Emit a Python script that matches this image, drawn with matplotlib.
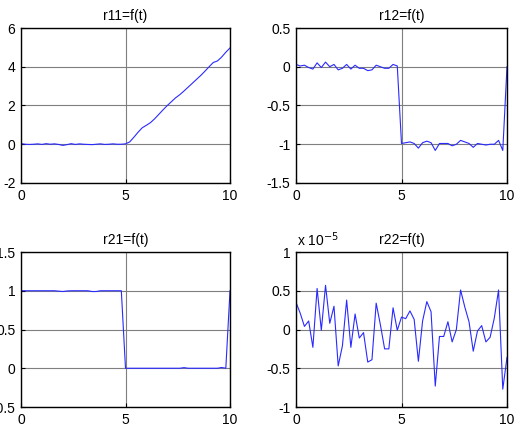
import numpy as np
import matplotlib.pyplot as plt

# time axis, step 0.2 s
t = np.linspace(0, 10, 51)

r11 = [0.03, 0.0, -0.01, 0.0, 0.02, -0.01, 0.03, 0.0, 0.02, -0.01,
       -0.06, -0.02, 0.03, -0.01, 0.02, 0.0, -0.01, -0.02, 0.0, 0.02,
       -0.01, 0.0, 0.02, 0.0, 0.0,
       0.02, 0.12, 0.36, 0.62, 0.85, 0.98, 1.12, 1.32, 1.55, 1.78,
       2.0, 2.2, 2.4, 2.56, 2.75, 2.95, 3.15, 3.35, 3.55, 3.77,
       4.0, 4.22, 4.3, 4.5, 4.75, 4.97]

r12 = [0.03, 0.01, 0.02, -0.01, -0.03, 0.05, -0.01, 0.06, 0.0, 0.03,
       -0.04, -0.02, 0.03, -0.03, 0.02, -0.02, -0.02, -0.05, -0.04, 0.02,
       0.0, -0.02, -0.02, 0.03, 0.01,
       -0.99, -0.98, -0.97, -0.99, -1.05, -0.98, -0.96, -0.98, -1.08, -0.99,
       -0.99, -0.99, -1.02, -1.0, -0.95, -0.97, -0.99, -1.04, -0.99, -1.0,
       -1.01, -1.0, -1.0, -0.95, -1.08, 0.0]

r21 = [1.0, 1.0, 1.0, 1.0, 1.0, 1.0, 1.0, 1.0, 1.0, 0.995,
       0.99, 0.997, 1.0, 1.0, 1.0, 1.0, 1.0, 0.99, 0.99, 1.0,
       1.0, 1.0, 1.0, 1.0, 1.0,
       0.0, 0.0, 0.0, 0.0, 0.0, 0.0, 0.0, 0.0, 0.0, 0.0,
       0.0, 0.0, 0.0, 0.0, 0.008, 0.0, 0.0, 0.0, 0.0, 0.0,
       0.0, 0.0, 0.0, 0.01, 0.0, 1.0]

# r22 in units of 1e-5
r22 = [0.35, 0.21, 0.04, 0.11, -0.23, 0.53, -0.01, 0.57, 0.08, 0.30,
       -0.47, -0.21, 0.38, -0.23, 0.20, -0.11, -0.04, -0.42, -0.39, 0.34,
       0.06, -0.25, -0.25, 0.28, -0.01, 0.16, 0.14, 0.24, 0.13, -0.41,
       0.11, 0.36, 0.23, -0.73, -0.09, -0.09, 0.10, -0.16, 0.0, 0.51,
       0.29, 0.10, -0.28, -0.02, 0.05, -0.16, -0.10, 0.15, 0.51, -0.77, -0.36]

xticks = [0, 5, 10]
titles = ["r11=f(t)", "r12=f(t)", "r21=f(t)", "r22=f(t)"]
series = [r11, r12, r21, r22]
ylims = [(-2, 6), (-1.5, 0.5), (-0.5, 1.5), (-1, 1)]
yticks = [[-2, 0, 2, 4, 6], [-1.5, -1, -0.5, 0, 0.5],
          [-0.5, 0, 0.5, 1, 1.5], [-1, -0.5, 0, 0.5, 1]]

plt.rcParams['font.family'] = ['Liberation Sans', 'DejaVu Sans']
plt.rcParams['axes.unicode_minus'] = False

W, H = 518, 448
fig = plt.figure(figsize=(W / 100, H / 100), dpi=100)

# axes boxes in pixels: left, top, right, bottom
boxes = [(21, 28, 230, 183), (296, 28, 507, 183),
         (21, 252, 230, 407), (296, 252, 507, 407)]

for i in range(4):
    l, tp, r, b = boxes[i]
    ax = fig.add_axes([l / W, 1 - b / H, (r - l) / W, (b - tp) / H])
    ax.plot(t, series[i], color='#2a2aff', linewidth=0.8)
    ax.set_xlim(0, 10)
    ax.set_ylim(*ylims[i])
    ax.set_xticks(xticks)
    ax.set_yticks(yticks[i])
    ax.set_xticklabels([f"{v:g}" for v in xticks])
    ax.set_yticklabels([f"{v:g}" for v in yticks[i]])
    ax.grid(True, color='#7f7f7f', linewidth=0.8, linestyle='-')
    ax.tick_params(direction='in', length=3, labelsize=10, pad=4)
    for s in ax.spines.values():
        s.set_linewidth(1.0)
    ax.set_title(titles[i], fontsize=10, pad=6)

fig.text(297 / W, 1 - 246 / H, r"x 10$^{-5}$", fontsize=10, ha='left', va='baseline')

fig.savefig("out.png", dpi=100)
